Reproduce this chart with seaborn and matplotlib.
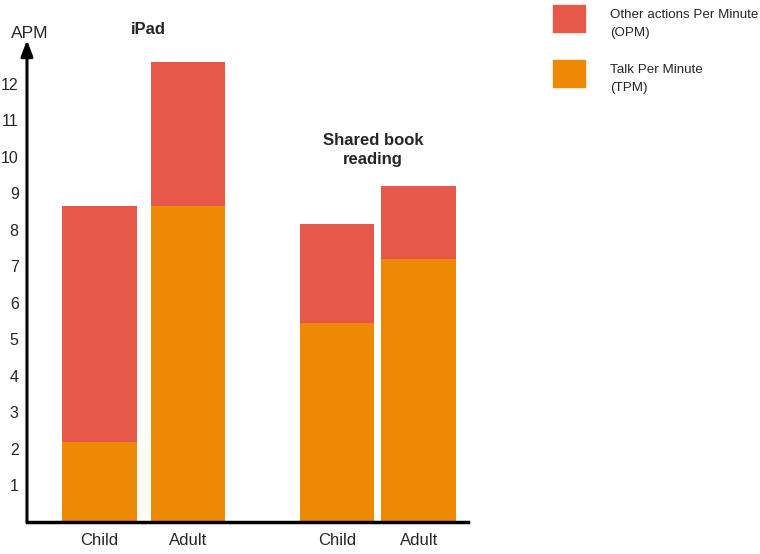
import matplotlib
matplotlib.use("Agg")
import matplotlib.pyplot as plt
import matplotlib.patches as mpatches
import seaborn as sns
import pandas as pd

# ---- data ----
groups = ["iPad", "iPad", "Shared book reading", "Shared book reading"]
speakers = ["Child", "Adult", "Child", "Adult"]
tpm = [2.2, 8.65, 5.45, 7.2]          # Talk Per Minute
opm = [6.45, 3.95, 2.7, 2.0]          # Other actions Per Minute
y_ticks = [1, 2, 3, 4, 5, 6, 7, 8, 9, 10, 11, 12]
legend_labels = ["Other actions Per Minute\n(OPM)", "Talk Per Minute\n(TPM)"]

# ---- layout (positions, not data) ----
xpos = [0.0, 1.0, 2.678, 3.599]

sns.set_theme(style="white")
plt.rcParams["font.family"] = ["Liberation Sans", "DejaVu Sans"]

c_opm = "#E5584A"
c_tpm = "#EE8905"

df = pd.DataFrame({"group": groups, "speaker": speakers, "TPM": tpm, "OPM": opm, "x": xpos})
df["total"] = df["TPM"] + df["OPM"]

fig = plt.figure(figsize=(7.6, 5.54), dpi=100)
ax = fig.add_axes([0.0355, 0.0578, 0.58, 0.87])

sns.barplot(data=df, x="x", y="total", native_scale=True, color=c_opm,
            saturation=1, width=0.912, ax=ax, linewidth=0, errorbar=None)
sns.barplot(data=df, x="x", y="TPM", native_scale=True, color=c_tpm,
            saturation=1, width=0.912, ax=ax, linewidth=0, errorbar=None)

ax.set_xlim(-0.819, 4.153)
ax.set_ylim(0, 13.2)
ax.set_xticks(xpos)
ax.set_xticklabels(speakers, fontsize=12)
ax.set_yticks(y_ticks)
ax.set_yticklabels([str(t) for t in y_ticks], fontsize=11.5)
ax.tick_params(axis="both", length=0)
ax.tick_params(axis="y", pad=6)
ax.tick_params(axis="x", pad=8)
ax.set_xlabel("")
ax.set_ylabel("")

for s in ["top", "right", "left"]:
    ax.spines[s].set_visible(False)
ax.spines["bottom"].set_color("black")
ax.spines["bottom"].set_linewidth(2.5)

# y axis arrow
ax.annotate("", xy=(0, 1.0), xytext=(0, 0), xycoords="axes fraction",
            arrowprops=dict(arrowstyle="-|>,head_length=0.8,head_width=0.3",
                            color="black", lw=2.2, shrinkA=0, shrinkB=0))

fig.text(48 / 760, 1 - 33 / 554, "APM", ha="right", va="center", fontsize=12.5)
fig.text(148 / 760, 1 - 30 / 554, "iPad", ha="center", va="center",
         fontsize=12, fontweight="bold")
fig.text(373 / 760, 1 - 150 / 554, "Shared book\nreading", ha="center",
         va="center", fontsize=12, fontweight="bold", linespacing=1.35)

# legend (manual placement)
legend_colors = [c_opm, c_tpm]
legend_tops = [5, 60]
for lab, col, top in zip(legend_labels, legend_colors, legend_tops):
    fig.patches.append(mpatches.Rectangle((553 / 760, 1 - (top + 27) / 554),
                                          32 / 760, 27 / 554, color=col,
                                          transform=fig.transFigure, figure=fig))
    fig.text(610 / 760, 1 - (top + 19) / 554, lab, ha="left", va="center",
             fontsize=9.6, linespacing=1.75)

fig.savefig("out.png", dpi=100)
